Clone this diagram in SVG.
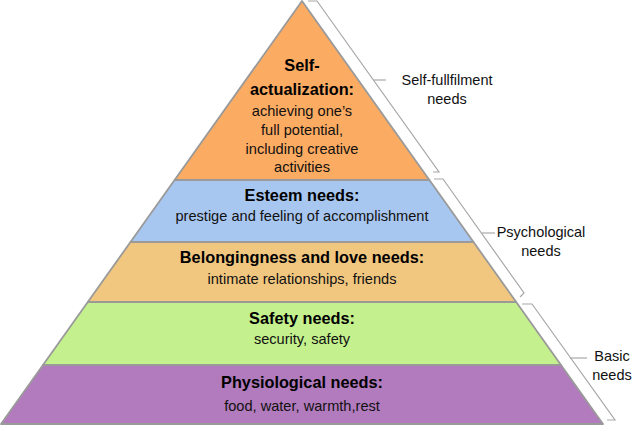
<svg xmlns="http://www.w3.org/2000/svg" width="636" height="426" viewBox="0 0 636 426">
<style>
.layer{stroke:#9a9a9a;stroke-width:1.8;stroke-linejoin:round}
.title{font-family:"Liberation Sans",Arial,sans-serif;font-weight:bold;font-size:16.3px;fill:#000;text-anchor:middle}
.body{font-family:"Liberation Sans",Arial,sans-serif;font-size:14.6px;fill:#111;text-anchor:middle}
.lbl{font-family:"Liberation Sans",Arial,sans-serif;font-size:14.5px;fill:#111;text-anchor:middle}
.br{fill:none;stroke:#a8a8a8;stroke-width:1.2}
</style>
<rect width="636" height="426" fill="#fff"/>
<g id="self-actualization">
<polygon class="layer" points="302,1 429.4,180 174.6,180" fill="#fcab62"/>
<text class="title" x="302" y="71">Self-</text>
<text class="title" x="302" y="95">actualization:</text>
<text class="body" x="302" y="116">achieving one’s</text>
<text class="body" x="302" y="135">full potential,</text>
<text class="body" x="302" y="154">including creative</text>
<text class="body" x="302" y="172">activities</text>
</g>
<g id="esteem">
<polygon class="layer" points="174.6,180 429.4,180 473.5,242 130.5,242" fill="#a8c7f0"/>
<text class="title" x="302" y="201">Esteem needs:</text>
<text class="body" x="302" y="221">prestige and feeling of accomplishment</text>
</g>
<g id="belonging">
<polygon class="layer" points="130.5,242 473.5,242 516.2,302 87.8,302" fill="#f1c780"/>
<text class="title" x="302" y="263">Belongingness and love needs:</text>
<text class="body" x="302" y="284">intimate relationships, friends</text>
</g>
<g id="safety">
<polygon class="layer" points="87.8,302 516.2,302 561,365 43,365" fill="#c4f18d"/>
<text class="title" x="302" y="324">Safety needs:</text>
<text class="body" x="302" y="344">security, safety</text>
</g>
<g id="physiological">
<polygon class="layer" points="43,365 561,365 603,424 1,424" fill="#b17bbd"/>
<text class="title" x="302" y="388">Physiological needs:</text>
<text class="body" x="302" y="411">food, water, warmth,rest</text>
</g>
<g id="connectors">
<polyline class="br" points="308,1 317,1 439,172 433,172"/>
<line class="br" x1="373" y1="80" x2="386" y2="80"/>
<polyline class="br" points="434,179 443,179 524,293 520,297"/>
<line class="br" x1="482" y1="233" x2="495" y2="233"/>
<polyline class="br" points="522,304 532,304 615,420 607,420"/>
<line class="br" x1="570" y1="358" x2="587" y2="358"/>
</g>
<g id="label-self">
<text class="lbl" x="447" y="85">Self-fullfilment</text>
<text class="lbl" x="447" y="104">needs</text>
</g>
<g id="label-psych">
<text class="lbl" x="541" y="237">Psychological</text>
<text class="lbl" x="541" y="256">needs</text>
</g>
<g id="label-basic">
<text class="lbl" x="612" y="361">Basic</text>
<text class="lbl" x="612" y="380">needs</text>
</g>
</svg>
